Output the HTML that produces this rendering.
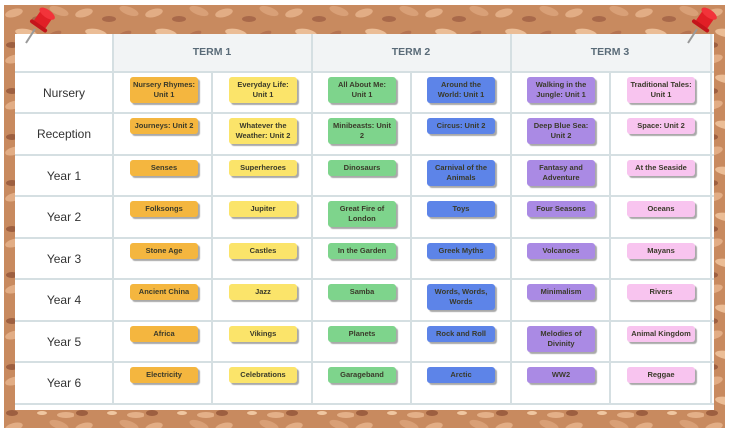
<!DOCTYPE html>
<html><head><meta charset="utf-8"><style>
*{margin:0;padding:0;box-sizing:border-box}
body{width:730px;height:434px;background:#fff;position:relative;overflow:hidden;font-family:"Liberation Sans",sans-serif}
.cork{position:absolute;left:4px;top:5px;width:721px;height:423px}
.board{position:absolute;left:15px;top:34px;width:699px;height:376px;background:#fff}
.h{position:absolute;background:#d5dfe2;height:2px}
.v{position:absolute;background:#d5dfe2;width:2px}
.hdr{position:absolute;top:34px;height:38px;background:#f2f4f5}
.th{position:absolute;top:46px;width:198px;text-align:center;font-size:10.5px;font-weight:bold;color:#5a6b78}
.rl{position:absolute;left:15px;width:98px;text-align:center;font-size:12px;color:#333}
.c{position:absolute;width:68px;border-radius:3px;font-size:7.5px;font-weight:bold;color:#3a3a2a;text-align:center;line-height:10px;padding:3px 2px;box-shadow:2px 2px 1px #a9a9a9}
.o{background:#f4b63f}.y{background:#fbe46a}.g{background:#7ed48c}.b{background:#5d84e8}.p{background:#aa8ae4}.k{background:#f8c4ef}
.pin{position:absolute}
</style></head><body>
<svg class="cork" width="721" height="423">
<defs><pattern id="ck" width="70" height="46" patternUnits="userSpaceOnUse">
<rect width="70" height="46" fill="#c88a5f"/>
<ellipse cx="10" cy="8" rx="9" ry="4" fill="#e2ad85" transform="rotate(-15 10 8)"/>
<ellipse cx="35" cy="14" rx="7" ry="3" fill="#a9694a"/>
<ellipse cx="55" cy="6" rx="10" ry="4" fill="#d9a077" transform="rotate(20 55 6)"/>
<ellipse cx="22" cy="28" rx="11" ry="4" fill="#ebbd96" transform="rotate(10 22 28)"/>
<ellipse cx="50" cy="30" rx="8" ry="3" fill="#b57452" transform="rotate(-25 50 30)"/>
<ellipse cx="8" cy="40" rx="6" ry="3" fill="#9d5f40"/>
<ellipse cx="62" cy="42" rx="9" ry="3" fill="#e4b088"/>
<ellipse cx="38" cy="40" rx="5" ry="2" fill="#f0c7a1"/>
</pattern></defs>
<rect width="721" height="423" fill="url(#ck)"/>
</svg>
<div class="board"></div>
<div class="hdr" style="left:113px;width:600px"></div>
<div class="th" style="left:113px">TERM 1</div>
<div class="th" style="left:312px">TERM 2</div>
<div class="th" style="left:511px">TERM 3</div>
<div class="h" style="left:15px;width:699px;top:71px"></div>
<div class="h" style="left:15px;width:699px;top:112px"></div>
<div class="h" style="left:15px;width:699px;top:154px"></div>
<div class="h" style="left:15px;width:699px;top:195px"></div>
<div class="h" style="left:15px;width:699px;top:237px"></div>
<div class="h" style="left:15px;width:699px;top:278px"></div>
<div class="h" style="left:15px;width:699px;top:320px"></div>
<div class="h" style="left:15px;width:699px;top:361px"></div>
<div class="h" style="left:15px;width:699px;top:403px"></div>
<div class="v" style="left:112px;top:34px;height:371px"></div>
<div class="v" style="left:311px;top:34px;height:371px"></div>
<div class="v" style="left:510px;top:34px;height:371px"></div>
<div class="v" style="left:211px;top:72px;height:333px"></div>
<div class="v" style="left:410px;top:72px;height:333px"></div>
<div class="v" style="left:609px;top:72px;height:333px"></div>
<div class="v" style="left:710px;top:34px;height:371px"></div>

<div class="rl" style="top:86px">Nursery</div>
<div class="rl" style="top:127px">Reception</div>
<div class="rl" style="top:169px">Year 1</div>
<div class="rl" style="top:210px">Year 2</div>
<div class="rl" style="top:252px">Year 3</div>
<div class="rl" style="top:293px">Year 4</div>
<div class="rl" style="top:335px">Year 5</div>
<div class="rl" style="top:376px">Year 6</div>

<div class="c o" style="left:130px;top:77px">Nursery Rhymes: Unit 1</div>
<div class="c y" style="left:229px;top:77px">Everyday Life: Unit 1</div>
<div class="c g" style="left:328px;top:77px">All About Me: Unit 1</div>
<div class="c b" style="left:427px;top:77px">Around the World: Unit 1</div>
<div class="c p" style="left:527px;top:77px">Walking in the Jungle: Unit 1</div>
<div class="c k" style="left:627px;top:77px">Traditional Tales: Unit 1</div>

<div class="c o" style="left:130px;top:118px">Journeys: Unit 2</div>
<div class="c y" style="left:229px;top:118px">Whatever the Weather: Unit 2</div>
<div class="c g" style="left:328px;top:118px">Minibeasts: Unit 2</div>
<div class="c b" style="left:427px;top:118px">Circus: Unit 2</div>
<div class="c p" style="left:527px;top:118px">Deep Blue Sea: Unit 2</div>
<div class="c k" style="left:627px;top:118px">Space: Unit 2</div>

<div class="c o" style="left:130px;top:160px">Senses</div>
<div class="c y" style="left:229px;top:160px">Superheroes</div>
<div class="c g" style="left:328px;top:160px">Dinosaurs</div>
<div class="c b" style="left:427px;top:160px">Carnival of the Animals</div>
<div class="c p" style="left:527px;top:160px">Fantasy and Adventure</div>
<div class="c k" style="left:627px;top:160px">At the Seaside</div>

<div class="c o" style="left:130px;top:201px">Folksongs</div>
<div class="c y" style="left:229px;top:201px">Jupiter</div>
<div class="c g" style="left:328px;top:201px">Great Fire of London</div>
<div class="c b" style="left:427px;top:201px">Toys</div>
<div class="c p" style="left:527px;top:201px">Four Seasons</div>
<div class="c k" style="left:627px;top:201px">Oceans</div>

<div class="c o" style="left:130px;top:243px">Stone Age</div>
<div class="c y" style="left:229px;top:243px">Castles</div>
<div class="c g" style="left:328px;top:243px">In the Garden</div>
<div class="c b" style="left:427px;top:243px">Greek Myths</div>
<div class="c p" style="left:527px;top:243px">Volcanoes</div>
<div class="c k" style="left:627px;top:243px">Mayans</div>

<div class="c o" style="left:130px;top:284px">Ancient China</div>
<div class="c y" style="left:229px;top:284px">Jazz</div>
<div class="c g" style="left:328px;top:284px">Samba</div>
<div class="c b" style="left:427px;top:284px">Words, Words, Words</div>
<div class="c p" style="left:527px;top:284px">Minimalism</div>
<div class="c k" style="left:627px;top:284px">Rivers</div>

<div class="c o" style="left:130px;top:326px">Africa</div>
<div class="c y" style="left:229px;top:326px">Vikings</div>
<div class="c g" style="left:328px;top:326px">Planets</div>
<div class="c b" style="left:427px;top:326px">Rock and Roll</div>
<div class="c p" style="left:527px;top:326px">Melodies of Divinity</div>
<div class="c k" style="left:627px;top:326px">Animal Kingdom</div>

<div class="c o" style="left:130px;top:367px">Electricity</div>
<div class="c y" style="left:229px;top:367px">Celebrations</div>
<div class="c g" style="left:328px;top:367px">Garageband</div>
<div class="c b" style="left:427px;top:367px">Arctic</div>
<div class="c p" style="left:527px;top:367px">WW2</div>
<div class="c k" style="left:627px;top:367px">Reggae</div>

<svg class="pin" style="left:20px;top:5px" width="40" height="42">
<line x1="6" y1="38" x2="15" y2="24" stroke="#999" stroke-width="2"/>
<g transform="rotate(35 22 16)"><rect x="15" y="6" width="14" height="16" rx="3" fill="#e11f26"/><ellipse cx="22" cy="7" rx="9" ry="4" fill="#f2333a"/><rect x="12" y="20" width="20" height="4" rx="2" fill="#c4151b"/></g>
</svg>
<svg class="pin" style="left:682px;top:5px" width="40" height="42">
<line x1="6" y1="38" x2="15" y2="24" stroke="#999" stroke-width="2"/>
<g transform="rotate(35 22 16)"><rect x="15" y="6" width="14" height="16" rx="3" fill="#e11f26"/><ellipse cx="22" cy="7" rx="9" ry="4" fill="#f2333a"/><rect x="12" y="20" width="20" height="4" rx="2" fill="#c4151b"/></g>
</svg>
</body></html>
